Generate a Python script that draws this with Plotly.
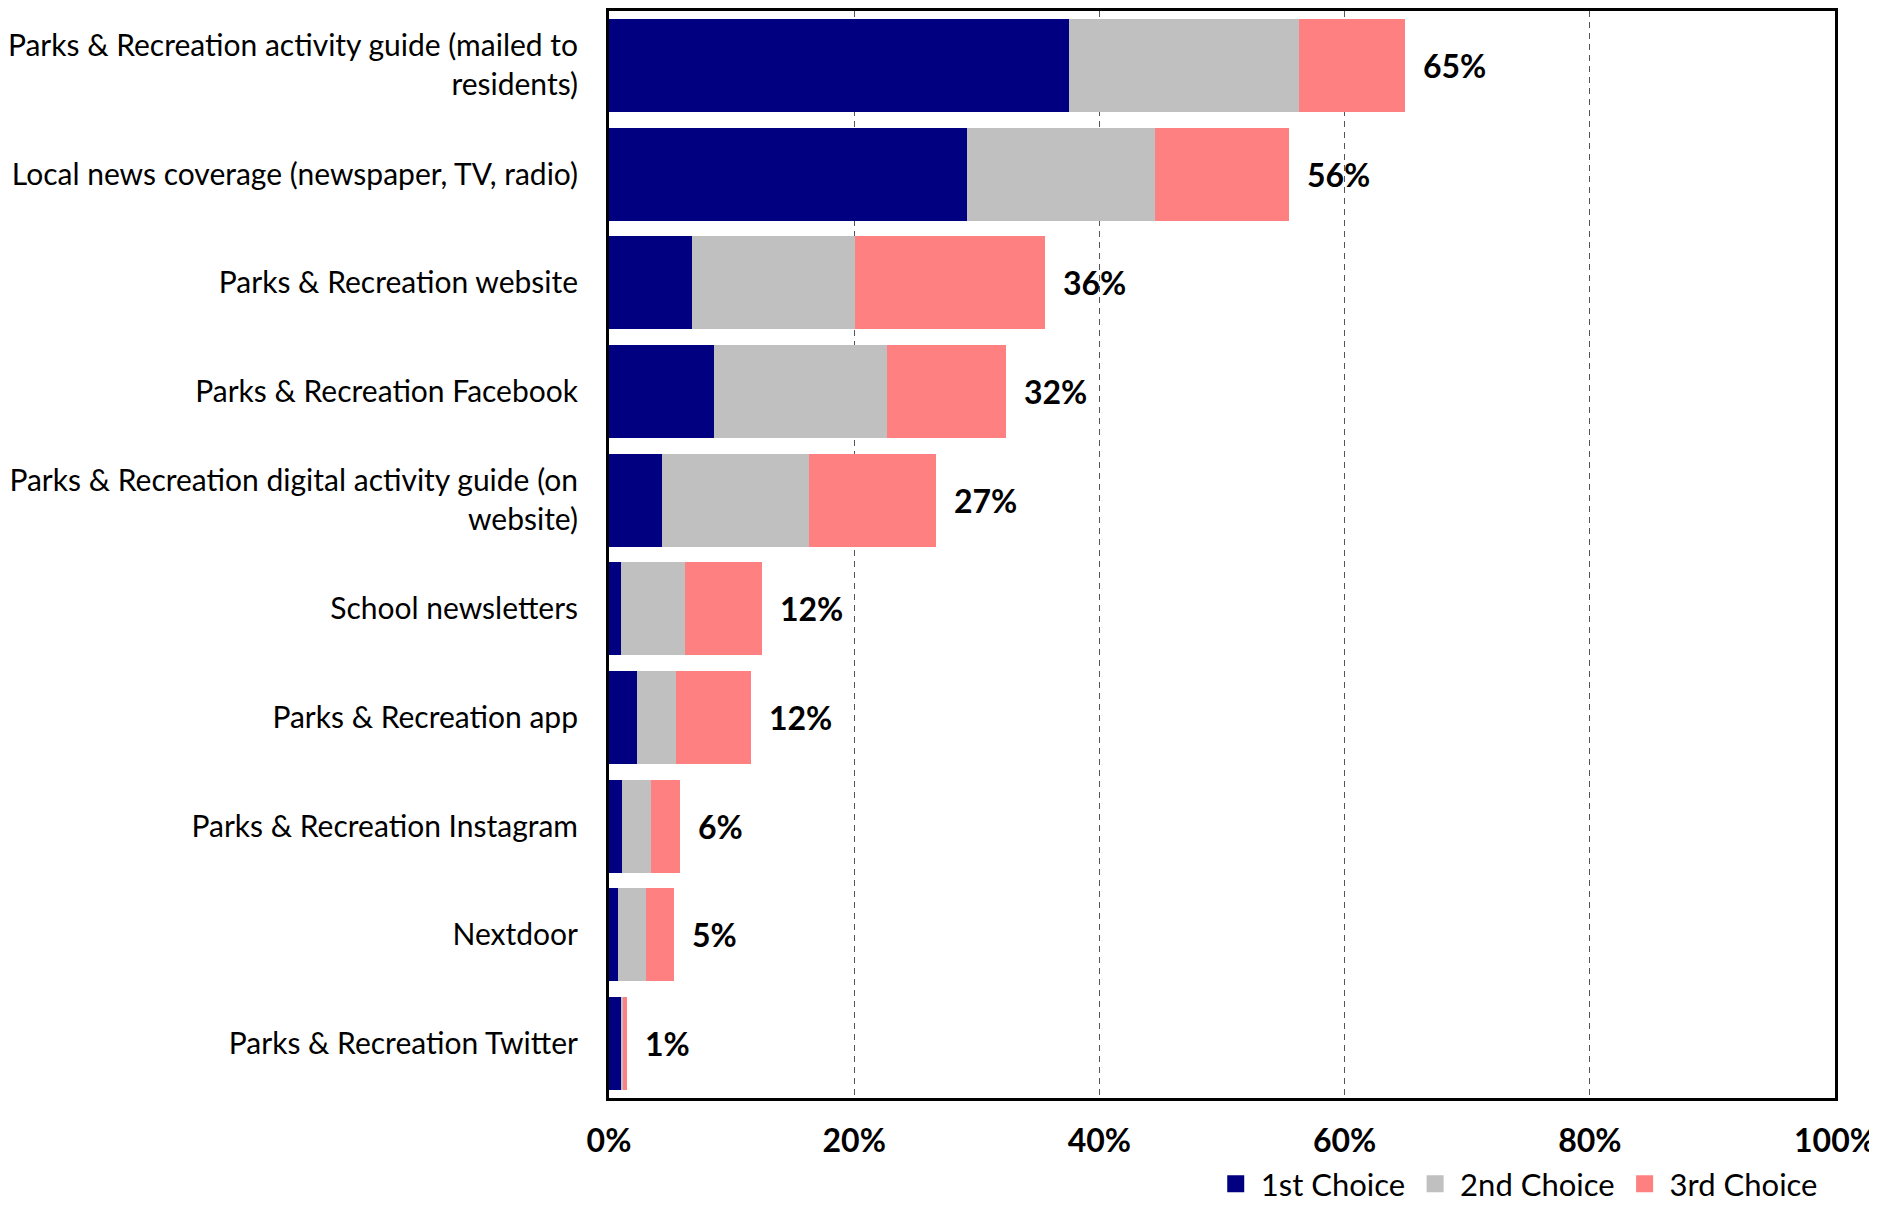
import plotly.graph_objects as go

categories = [
    "Parks & Recreation activity guide (mailed to<br>residents)",
    "Local news coverage (newspaper, TV, radio)",
    "Parks & Recreation website",
    "Parks & Recreation Facebook",
    "Parks & Recreation digital activity guide (on<br>website)",
    "School newsletters",
    "Parks & Recreation app",
    "Parks & Recreation Instagram",
    "Nextdoor",
    "Parks & Recreation Twitter",
]
first_choice = [37.5, 29.2, 6.8, 8.6, 4.3, 1.0, 2.3, 1.1, 0.7, 1.0]
second_choice = [18.8, 15.3, 13.3, 14.1, 12.0, 5.2, 3.2, 2.3, 2.3, 0.15]
third_choice = [8.6, 11.0, 15.5, 9.7, 10.4, 6.3, 6.1, 2.4, 2.3, 0.35]
total_labels = ["65%", "56%", "36%", "32%", "27%", "12%", "12%", "6%", "5%", "1%"]
series_names = ["1st Choice", "2nd Choice", "3rd Choice"]
x_ticks = [0, 20, 40, 60, 80, 100]

colors = ["#000080", "#C0C0C0", "#FF8080"]
FONT = "Lato"

fig = go.Figure()
for name, vals, col in zip(series_names, [first_choice, second_choice, third_choice], colors):
    fig.add_trace(go.Bar(
        y=categories, x=vals, name=name, orientation="h",
        marker=dict(color=col, line=dict(width=0)),
        hoverinfo="x+name", showlegend=False, legendgroup=name,
    ))
# legend-only entries (no visible data) with larger swatches
for name, col in zip(series_names, colors):
    fig.add_trace(go.Bar(
        y=[categories[0]], x=[None], name=name, orientation="h",
        marker=dict(color=col, line=dict(width=5, color=col)),
        showlegend=True, legendgroup=name, hoverinfo="skip",
    ))

totals = [a + b + c for a, b, c in zip(first_choice, second_choice, third_choice)]
for cat, tot, lab in zip(categories, totals, total_labels):
    fig.add_annotation(
        x=tot, y=cat, text=f"<b>{lab}</b>", showarrow=False,
        xanchor="left", yanchor="middle", xshift=16,
        font=dict(family=FONT, size=32, color="black"),
    )

fig.update_layout(
    width=1869, height=1206,
    margin=dict(l=597, r=42, t=0, b=116),
    barmode="stack", bargap=0.145,
    plot_bgcolor="white", paper_bgcolor="white",
    font=dict(family=FONT, size=30, color="black"),
    legend=dict(
        orientation="h", x=0.99, xanchor="right", y=-0.104, yanchor="bottom",
        font=dict(family=FONT, size=31, color="black"),
        traceorder="normal", itemwidth=40,
    ),
    xaxis=dict(
        range=[0, 100], tickvals=x_ticks, ticktext=[f"<b>{v}%</b>" for v in x_ticks],
        showgrid=True, gridcolor="#555555", gridwidth=1, griddash="6px,5px",
        showline=True, linecolor="black", linewidth=3, mirror=True,
        ticks="", tickfont=dict(family=FONT, size=32, color="black"),
        ticklabelstandoff=13, zeroline=False,
    ),
    yaxis=dict(
        autorange="reversed",
        showline=True, linecolor="black", linewidth=3, mirror=True,
        ticks="", tickfont=dict(family=FONT, size=30, color="black"),
        ticklabelstandoff=22, showgrid=False,
    ),
)

fig.write_html("out.html")
